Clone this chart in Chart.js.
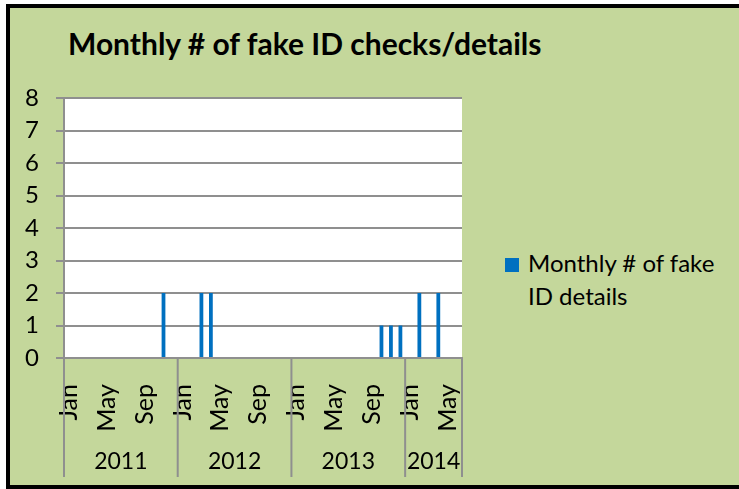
<!DOCTYPE html>
<html>
<head>
<meta charset="utf-8">
<script src="https://cdn.jsdelivr.net/npm/chart.js@4.4.1/dist/chart.umd.min.js"></script>
<style>
    html, body { margin: 0; padding: 0; background: #fff; width: 739px; height: 489px; overflow: hidden; }
    #frame { position: absolute; left: 6px; top: 4px; width: 760px; height: 477px; background: #c4d79b; border: 4px solid #000; border-right: none; }
    #title { position: absolute; left: 68px; top: 25px; font: bold 30px Lato, sans-serif; color: #000; white-space: nowrap; }
    #legend { position: absolute; left: 505px; top: 246px; font: 24px Lato, sans-serif; color: #000; line-height: 33px; }
    #legend .box { position: absolute; left: 0; top: 12px; width: 14px; height: 14px; background: #0070c0; }
    #legend .text { margin-left: 23px; }
    #chart { position: absolute; left: 0; top: 0; }
</style>
</head>
<body>
<div id="frame"></div>
<div id="title">Monthly # of fake ID checks/details</div>
<div id="legend"><div class="box"></div><div class="text">Monthly # of fake<br>ID details</div></div>
<canvas id="chart" width="739" height="489"></canvas>
<script>
// 月份、年份與數值
const monthNames = ['Jan', 'Feb', 'Mar', 'Apr', 'May', 'Jun', 'Jul', 'Aug', 'Sep', 'Oct', 'Nov', 'Dec'];
const years = ['2011', '2012', '2013', '2014'];
const monthsPerYear = [12, 12, 12, 6];
const fakeIdDetails = [
    0, 0, 0, 0, 0, 0, 0, 0, 0, 0, 2, 0,   // 2011
    0, 0, 2, 2, 0, 0, 0, 0, 0, 0, 0, 0,   // 2012
    0, 0, 0, 0, 0, 0, 0, 0, 0, 1, 1, 1,   // 2013
    0, 2, 0, 2, 0, 0                      // 2014
];
const yTicks = [0, 1, 2, 3, 4, 5, 6, 7, 8];

// 建立類別標籤
const labels = [];
monthsPerYear.forEach(n => {
    for (let m = 0; m < n; m++) labels.push(monthNames[m]);
});

const gridGray = '#8f8f8f';
const fontFamily = 'Lato, sans-serif';

// 繪圖區白色背景
const plotBackground = {
    id: 'plotBackground',
    beforeDraw(chart) {
        const { ctx, chartArea } = chart;
        ctx.save();
        ctx.fillStyle = '#fff';
        ctx.fillRect(chartArea.left, chartArea.top, chartArea.right - chartArea.left, chartArea.bottom - chartArea.top);
        ctx.restore();
    }
};

// 年份分組標籤與分隔線
const yearGroups = {
    id: 'yearGroups',
    afterDraw(chart) {
        const { ctx, chartArea } = chart;
        const xs = chart.scales.x;
        const bottom = 477;
        ctx.save();
        ctx.strokeStyle = gridGray;
        ctx.lineWidth = 2;
        ctx.fillStyle = '#000';
        ctx.font = '23px ' + fontFamily;
        ctx.textAlign = 'center';
        ctx.textBaseline = 'middle';
        let start = 0;
        monthsPerYear.forEach((n, i) => {
            const left = xs.getPixelForValue(start - 0.5);
            const right = xs.getPixelForValue(start + n - 0.5);
            ctx.beginPath();
            ctx.moveTo(left, chartArea.bottom);
            ctx.lineTo(left, bottom);
            if (i === monthsPerYear.length - 1) {
                ctx.moveTo(right, chartArea.bottom);
                ctx.lineTo(right, bottom);
            }
            ctx.stroke();
            ctx.fillText(years[i], (left + right) / 2, 462);
            start += n;
        });
        ctx.restore();
    }
};

new Chart(document.getElementById('chart'), {
    type: 'bar',
    data: {
        labels: labels,
        datasets: [{
            label: 'Monthly # of fake ID details',
            data: fakeIdDetails,
            backgroundColor: '#0070c0',
            borderWidth: 0,
            barPercentage: 0.4,
            categoryPercentage: 1
        }]
    },
    options: {
        responsive: false,
        animation: false,
        layout: { padding: { left: 0, top: 98, right: 277, bottom: 0 } },
        plugins: {
            legend: { display: false },
            tooltip: { enabled: false }
        },
        scales: {
            x: {
                afterFit(scale) { scale.height = 131; },
                grid: { display: false },
                border: { display: true, color: gridGray, width: 2 },
                ticks: {
                    autoSkip: false,
                    minRotation: 90,
                    maxRotation: 90,
                    padding: 18,
                    color: '#000',
                    font: { family: fontFamily, size: 25 },
                    callback: (v, i) => (i % 4 === 0 ? labels[i] : '')
                }
            },
            y: {
                min: 0,
                max: 8,
                afterFit(scale) { scale.width = 64; },
                afterBuildTicks(scale) { scale.ticks = yTicks.map(v => ({ value: v })); },
                grid: { color: gridGray, lineWidth: 2, tickLength: 8, drawTicks: true },
                border: { display: true, color: gridGray, width: 2 },
                ticks: {
                    padding: 17,
                    color: '#000',
                    font: { family: fontFamily, size: 24 }
                }
            }
        }
    },
    plugins: [plotBackground, yearGroups]
});
</script>
</body>
</html>
